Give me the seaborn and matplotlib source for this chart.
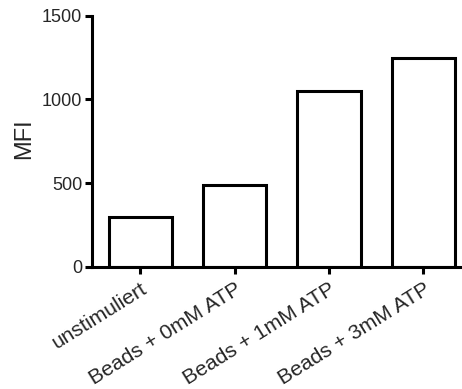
import matplotlib
matplotlib.use("Agg")
import matplotlib.pyplot as plt
import matplotlib.transforms as mtransforms
import seaborn as sns

# Mean fluorescence intensity per condition
conditions = ["unstimuliert", "Beads + 0mM ATP", "Beads + 1mM ATP", "Beads + 3mM ATP"]
mfi = [300, 490, 1052, 1245]
y_ticks = [0, 500, 1000, 1500]

sns.set_theme(style="ticks")
plt.rcParams["font.family"] = ["Liberation Sans", "DejaVu Sans"]

lw = 2.2
fig = plt.figure(figsize=(4.62, 3.89), dpi=100)
ax = fig.add_axes([0.1991, 0.3144, 0.8009, 0.6452])

sns.barplot(x=conditions, y=mfi, ax=ax, color="white", saturation=1,
            edgecolor="black", linewidth=lw, width=0.67, errorbar=None)

ax.set_ylim(0, 1500)
ax.set_xlim(-0.51, 3.41)
ax.set_yticks(y_ticks)
ax.set_yticklabels([str(t) for t in y_ticks], fontsize=13)
ax.set_xticks(range(len(conditions)))
ax.set_xticklabels(conditions, fontsize=15.2, rotation=32, ha="right",
                   va="top", rotation_mode="anchor")

# nudge rotated category labels so their ends sit under the ticks
shift = mtransforms.ScaledTranslation(-5 / 100, 0, fig.dpi_scale_trans)
for lab in ax.get_xticklabels():
    lab.set_transform(lab.get_transform() + shift)

sns.despine(ax=ax)
for side in ("left", "bottom"):
    ax.spines[side].set_linewidth(lw)
    ax.spines[side].set_color("black")
    ax.spines[side].set_capstyle("projecting")

ax.tick_params(axis="both", direction="out", length=5, width=lw, color="black")
ax.tick_params(axis="y", pad=2)
ax.tick_params(axis="x", pad=4)

ax.set_ylabel("MFI", fontsize=17, va="center")
ax.yaxis.set_label_coords(-0.184, 0.509)
ax.set_xlabel("")

fig.savefig("out.png", dpi=100)
